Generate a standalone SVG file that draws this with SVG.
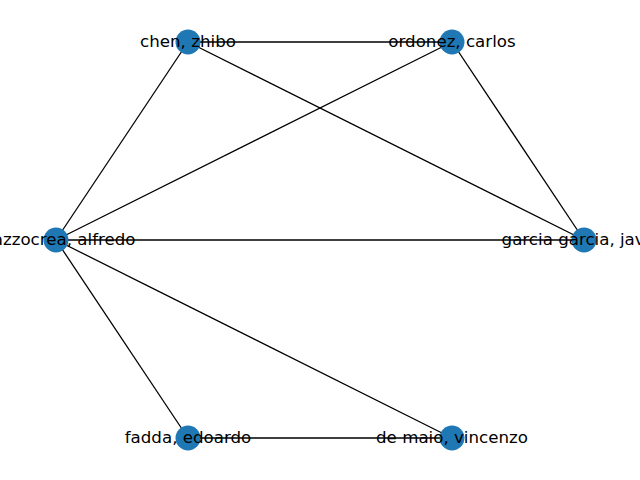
<svg xmlns="http://www.w3.org/2000/svg" width="640" height="480" viewBox="0 0 640 480">
<style>
.edge{stroke:#000;stroke-width:1.3;fill:none}
.node circle{fill:#1f78b4}
.node text{font-family:"DejaVu Sans",sans-serif;font-size:16.67px;fill:#000;text-anchor:middle}
</style>
<rect width="640" height="480" fill="#fff"/>
<g id="edges">
<line class="edge" x1="188" y1="42" x2="452" y2="42"/>
<line class="edge" x1="188" y1="42" x2="56" y2="240"/>
<line class="edge" x1="188" y1="42" x2="584" y2="240"/>
<line class="edge" x1="452" y1="42" x2="56" y2="240"/>
<line class="edge" x1="452" y1="42" x2="584" y2="240"/>
<line class="edge" x1="56" y1="240" x2="584" y2="240"/>
<line class="edge" x1="56" y1="240" x2="188" y2="438"/>
<line class="edge" x1="56" y1="240" x2="452" y2="438"/>
<line class="edge" x1="188" y1="438" x2="452" y2="438"/>
</g>
<g id="node-chen" class="node"><circle cx="188" cy="42" r="12.5"/></g>
<g id="node-ordonez" class="node"><circle cx="452" cy="42" r="12.5"/></g>
<g id="node-mazzocrea" class="node"><circle cx="56" cy="240" r="12.5"/></g>
<g id="node-garcia" class="node"><circle cx="584" cy="240" r="12.5"/></g>
<g id="node-fadda" class="node"><circle cx="188" cy="438" r="12.5"/></g>
<g id="node-demaio" class="node"><circle cx="452" cy="438" r="12.5"/></g>
<g id="labels" class="node">
<text x="188" y="47">chen, zhibo</text>
<text x="452" y="47">ordonez, carlos</text>
<text x="56" y="245">mazzocrea, alfredo</text>
<text x="584" y="245">garcia garcia, javier</text>
<text x="188" y="443">fadda, edoardo</text>
<text x="452" y="443">de maio, vincenzo</text>
</g>
</svg>
